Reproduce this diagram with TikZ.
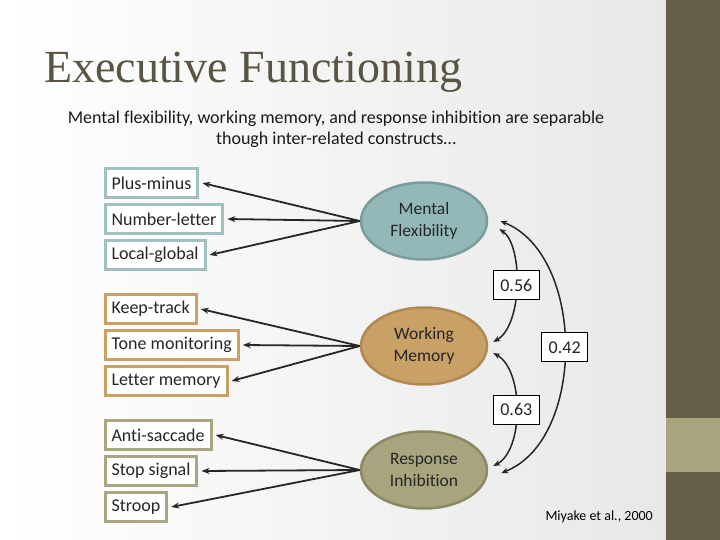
\documentclass[tikz,border=0pt]{standalone}
\usepackage{fontspec}
\setmainfont{Carlito}[Ligatures=NoCommon]
\newfontfamily\titlefont{Liberation Serif}
\usetikzlibrary{arrows.meta,shapes.geometric,calc}
\definecolor{band}{HTML}{655E48}
\definecolor{bandlight}{HTML}{A8A47E}
\definecolor{bgr}{HTML}{E8E8E8}
\definecolor{titlec}{HTML}{5A5542}
\definecolor{txt}{HTML}{262626}
\definecolor{mfb}{HTML}{A3C0C0}
\definecolor{wmb}{HTML}{C9A164}
\definecolor{rib}{HTML}{AAA683}
\definecolor{mff}{HTML}{94B8B8}
\definecolor{mfd}{HTML}{7A9C9C}
\definecolor{wmf}{HTML}{C9A065}
\definecolor{wmd}{HTML}{B08A52}
\definecolor{rif}{HTML}{A8A47E}
\definecolor{rid}{HTML}{8C8866}
\begin{document}
\begin{tikzpicture}[x=1pt,y=-1pt,
  tbox/.style={draw=#1, line width=3pt, fill=white, anchor=west, minimum height=29pt,
    inner xsep=6.5pt, inner ysep=2pt, text=txt, font=\fontsize{18}{20}\selectfont},
  lat/.style 2 args={ellipse, fill=#1, draw=#2, line width=2.5pt, minimum width=126pt,
    minimum height=77pt, inner sep=0pt, align=center, text=txt,
    font=\fontsize{17.5}{22}\selectfont},
  ld/.style={-{Stealth[length=8pt,width=6pt]}, line width=1.8pt, draw=txt},
  corr/.style={{Stealth[length=7pt,width=5.5pt]}-{Stealth[length=7pt,width=5.5pt]}, line width=1.5pt, draw=txt},
  lab/.style={draw=black, line width=0.8pt, fill=white, minimum width=46pt, minimum height=29pt,
    inner sep=1pt, text=txt, font=\fontsize{18}{20}\selectfont}
]
\useasboundingbox (0,0) rectangle (720,540);
\shade[left color=white, right color=bgr] (0,0) rectangle (666,540);
\fill[band] (666,0) rectangle (720,540);
\fill[bandlight] (666,418) rectangle (720,472);

\node[anchor=base west, inner sep=0pt, text=titlec, font=\titlefont\fontsize{46}{50}\selectfont] (title) at (44,83) {Executive Functioning};
\node[anchor=base, inner sep=0pt, text=black!90, font=\fontsize{18}{21}\selectfont] (sub1) at (336,124) {Mental flexibility, working memory, and response inhibition are separable};
\node[anchor=base, inner sep=0pt, text=black!90, font=\fontsize{18}{21}\selectfont] (sub2) at (336,145) {though inter-related constructs\dots};

% indicator boxes
\node[tbox=mfb] (pm) at (103.5,183) {Plus-minus};
\node[tbox=mfb] (nl) at (103.5,219) {Number-letter};
\node[tbox=mfb] (lg) at (103.5,255) {Local-global};
\node[tbox=wmb] (kt) at (103.5,309) {Keep-track};
\node[tbox=wmb] (tm) at (103.5,345) {Tone monitoring};
\node[tbox=wmb] (lm) at (103.5,381) {Letter memory};
\node[tbox=rib] (as) at (103.5,435) {Anti-saccade};
\node[tbox=rib] (ss) at (103.5,471) {Stop signal};
\node[tbox=rib] (st) at (103.5,507) {Stroop};

% latent variables
\node[lat={mff}{mfd}] (mf) at (424,221) {Mental\\Flexibility};
\node[lat={wmf}{wmd}] (wm) at (424,346) {Working\\Memory};
\node[lat={rif}{rid}] (ri) at (424,470) {Response\\Inhibition};

% loadings
\foreach \a/\b in {mf/pm, mf/nl, mf/lg, wm/kt, wm/tm, wm/lm, ri/as, ri/ss, ri/st}
  \draw[ld] (\a.west) -- ([xshift=3pt]\b.east);

% correlations
\draw[corr] ([shift={(11,8)}]mf.east) .. controls (523,245) and (523,325) .. ([shift={(5,-4)}]wm.east)
  node[lab, pos=0.5] (c1) {0.56};
\draw[corr] ([shift={(5,7)}]wm.east) .. controls (524,370) and (524,450) .. ([shift={(5,-4)}]ri.east)
  node[lab, pos=0.5] (c2) {0.63};
\draw[corr] ([shift={(12,0)}]mf.east) .. controls (586,255) and (586,440) .. ([shift={(13,3)}]ri.east)
  node[lab, pos=0.5] (c3) {0.42};

\node[anchor=base east, inner sep=0pt, text=black, font=\fontsize{14}{16}\selectfont] (cite) at (653,520) {Miyake et al., 2000};
\end{tikzpicture}
\end{document}
